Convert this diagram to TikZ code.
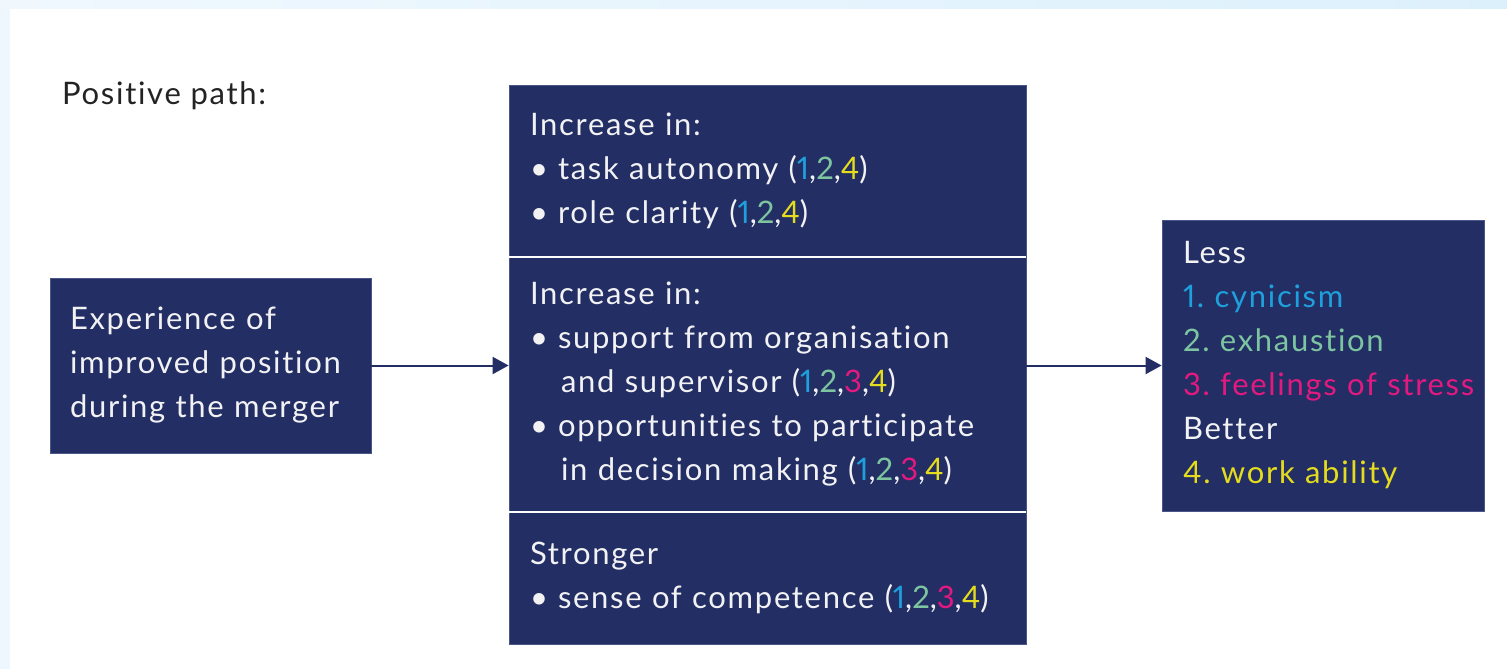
\documentclass[tikz,border=0pt]{standalone}
\usepackage{fontspec}
\setmainfont{Lato}[LetterSpace=5.5, Numbers=Proportional, Ligatures=NoCommon]
\usetikzlibrary{arrows.meta}

\definecolor{navy}{HTML}{222E64}
\definecolor{navyedge}{HTML}{4A5687}
\definecolor{boxtext}{HTML}{F2F2F4}
\definecolor{headtext}{HTML}{232323}
\definecolor{bandL}{HTML}{F0F8FE}
\definecolor{bandR}{HTML}{DCF0FC}
\definecolor{strip}{HTML}{EEF7FD}
\definecolor{cOne}{HTML}{1F9FDB}
\definecolor{cTwo}{HTML}{7DC4A0}
\definecolor{cThree}{HTML}{E2197F}
\definecolor{cFour}{HTML}{E4DC1C}

% outcome numbers in their colours
\newcommand\ntri{(\textcolor{cOne}{1},\textcolor{cTwo}{2},\textcolor{cFour}{4})}
\newcommand\nquad{(\textcolor{cOne}{1},\textcolor{cTwo}{2},\textcolor{cThree}{3},\textcolor{cFour}{4})}
% bullet and hanging indent
\newcommand\bul{\makebox[28pt][l]{\textbullet}}
\newcommand\hang{\hspace*{31pt}}
\frenchspacing

\begin{document}
\begin{tikzpicture}[x=1pt,y=-1pt,
  txt/.style={font=\fontsize{31}{44}\selectfont},
  navybox/.style={txt, fill=navy, draw=navyedge, line width=0.8pt,
    text=boxtext, align=left, inner ysep=0pt, anchor=center},
  link/.style={navy, line width=2pt, -{Triangle[length=16pt,width=17pt]}},
  divider/.style={white, line width=2pt}]

\useasboundingbox (0,0) rectangle (1507,669);
\fill[white] (0,0) rectangle (1507,669);
\shade[left color=bandL, right color=bandR] (0,0) rectangle (1507,9);
\fill[strip] (0,9) rectangle (10,669);

\node[txt, text=headtext, anchor=base west, inner sep=0pt] (title) at (62,104) {Positive path:};

% cause
\node[navybox, minimum width=321pt, minimum height=175pt, inner xsep=20pt,
  text width=281pt] (exp) at (210.5,365.5)
  {\mbox{Experience of}\\\mbox{improved position}\\\mbox{during the merger}};

% mediators, three stacked sections
\node[navybox, minimum width=517pt, minimum height=172pt, inner xsep=21pt,
  text width=475pt] (secA) at (767.5,171)
  {Increase in:\\\bul task autonomy \ntri\\\bul role clarity \ntri};
\node[navybox, minimum width=517pt, minimum height=255pt, inner xsep=21pt,
  text width=475pt] (secB) at (767.5,384.5)
  {Increase in:\\\bul support from organisation\\\hang and supervisor \nquad\\
   \bul opportunities to participate\\\hang in decision making \nquad};
\node[navybox, minimum width=517pt, minimum height=132pt, inner xsep=21pt,
  text width=475pt] (secC) at (767.5,578)
  {Stronger\\\bul \mbox{sense of competence \nquad}};
\draw[divider] (secA.south west) -- (secA.south east);
\draw[divider] (secC.north west) -- (secC.north east);

% outcomes
\node[navybox, minimum width=322pt, minimum height=291pt, inner xsep=21pt,
  text width=280pt] (out) at (1323,365.5)
  {Less\\\textcolor{cOne}{1. cynicism}\\\textcolor{cTwo}{2. exhaustion}\\
   \textcolor{cThree}{\mbox{3. feelings of stress}}\\Better\\\textcolor{cFour}{4. work ability}};

\draw[link] (exp.east) -- (exp.east -| secB.west);
\draw[link] (out.west -| secB.east) -- (out.west);
\end{tikzpicture}
\end{document}
